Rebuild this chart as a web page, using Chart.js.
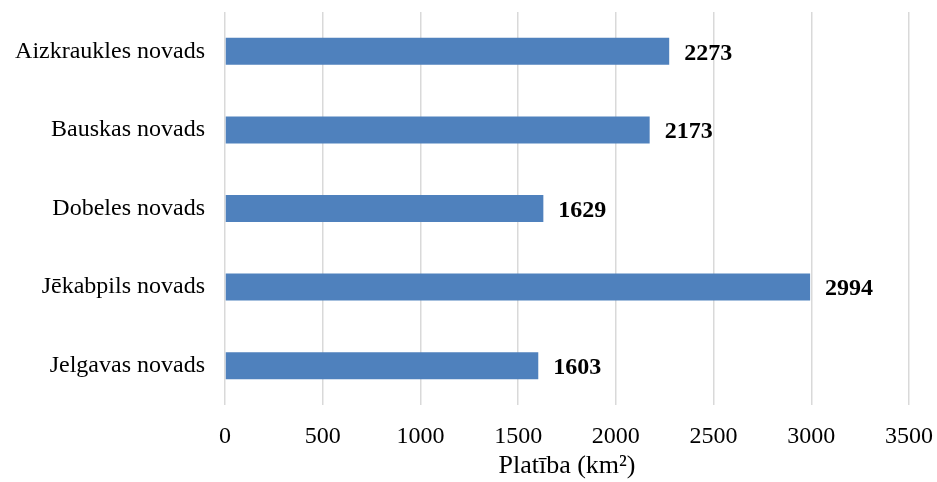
<!DOCTYPE html>
<html>
<head>
<meta charset="utf-8">
<script src="https://cdn.jsdelivr.net/npm/chart.js@4"></script>
<style>
html,body{margin:0;padding:0;background:#fff;}
#wrap{width:937px;height:482px;position:relative;}
</style>
</head>
<body>
<div id="wrap"><canvas id="c"></canvas></div>
<script>
const categories = ["Aizkraukles novads", "Bauskas novads", "Dobeles novads", "Jēkabpils novads", "Jelgavas novads"];
const values = [2273, 2173, 1629, 2994, 1603];
const xTicks = [0, 500, 1000, 1500, 2000, 2500, 3000, 3500];
const axisTitle = "Platība (km²)";

const FONT = "'Liberation Serif', 'Times New Roman', serif";

const valueLabels = {
  id: 'valueLabels',
  afterDatasetsDraw(chart) {
    const ctx = chart.ctx;
    const meta = chart.getDatasetMeta(0);
    ctx.save();
    ctx.font = "bold 24px " + FONT;
    ctx.fillStyle = "#000";
    ctx.textAlign = "left";
    ctx.textBaseline = "middle";
    meta.data.forEach((bar, i) => {
      ctx.fillText(String(values[i]), bar.x + 15, bar.y + 2);
    });
    ctx.restore();
  }
};

new Chart(document.getElementById('c'), {
  type: 'bar',
  data: {
    labels: categories,
    datasets: [{
      data: values,
      backgroundColor: '#4F81BD',
      borderWidth: 0,
      barPercentage: 0.344,
      categoryPercentage: 1.0
    }]
  },
  options: {
    indexAxis: 'y',
    responsive: true,
    maintainAspectRatio: false,
    animation: false,
    layout: { padding: { top: 12, right: 28, left: 0, bottom: 0 } },
    plugins: { legend: { display: false }, tooltip: { enabled: false } },
    scales: {
      x: {
        min: 0, max: 3500,
        afterBuildTicks(axis) { axis.ticks = xTicks.map(v => ({ value: v })); },
        afterFit(axis) { axis.height = 77; axis.paddingLeft = 0; axis.paddingRight = 0; },
        grid: { color: '#d9d9d9', lineWidth: 1.5, drawTicks: false },
        border: { display: false },
        ticks: { color: '#000', font: { family: FONT, size: 24 }, padding: 17, callback: (v) => String(v) },
        title: { display: true, text: axisTitle, color: '#000', font: { family: FONT, size: 26 }, padding: { top: 0, bottom: 0 } }
      },
      y: {
        afterFit(axis) { axis.width = 225; axis.paddingTop = 0; axis.paddingBottom = 0; },
        grid: { display: false, drawTicks: false },
        border: { display: false },
        ticks: { color: '#000', font: { family: FONT, size: 24 }, padding: 20 }
      }
    }
  },
  plugins: [valueLabels]
});
</script>
</body>
</html>
